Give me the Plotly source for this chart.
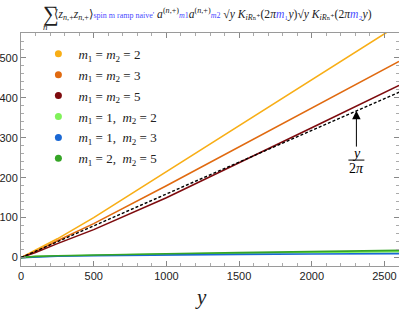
import plotly.graph_objects as go

# ---- data ----
y_grid = [0, 100, 250, 500, 1000, 1500, 2000, 2600]
s_22 = [0, 18, 47, 100, 215, 330, 445, 583]
s_33 = [0, 15, 42, 85, 180, 277, 374, 491]
s_55 = [0, 13, 35, 70, 150, 237, 325, 431]
s_12 = [0, 2.5, 4, 6, 9, 11, 13, 15]
s_13 = [0, 2, 3.5, 5, 7, 8, 9, 10]
s_25 = [0, 3, 4.5, 6.5, 9.5, 12.5, 15, 18]
ref_y = [0, 2600]
ref_vals = [0, 413.8]   # y / (2 pi)

labels = [
    "<i>m</i><sub>1</sub> = <i>m</i><sub>2</sub> = 2",
    "<i>m</i><sub>1</sub> = <i>m</i><sub>2</sub> = 3",
    "<i>m</i><sub>1</sub> = <i>m</i><sub>2</sub> = 5",
    "<i>m</i><sub>1</sub> = 1,  <i>m</i><sub>2</sub> = 2",
    "<i>m</i><sub>1</sub> = 1,  <i>m</i><sub>2</sub> = 3",
    "<i>m</i><sub>1</sub> = 2,  <i>m</i><sub>2</sub> = 5",
]
series = [s_22, s_33, s_55, s_12, s_13, s_25]
colors = ["#F8AE16", "#E06A10", "#7E0B0E", "#80F25A", "#1A68D4", "#35A526"]

x_ticks = [0, 500, 1000, 1500, 2000, 2500]
y_ticks = [0, 100, 200, 300, 400, 500]

SERIF = "Liberation Serif, DejaVu Serif, serif"
SANS = "Liberation Sans, Arial, sans-serif"

fig = go.Figure()

for vals, col in zip(series, colors):
    fig.add_trace(go.Scatter(x=y_grid, y=vals, mode="lines",
                             line=dict(color=col, width=1.6),
                             showlegend=False, hoverinfo="skip"))

fig.add_trace(go.Scatter(x=ref_y, y=ref_vals, mode="lines",
                         line=dict(color="black", width=1.4, dash="3px,2px"),
                         showlegend=False, hoverinfo="skip"))

# legend entries (dots)
for i, (lab, col) in enumerate(zip(labels, colors)):
    fig.add_trace(go.Scatter(x=[None], y=[None], mode="markers",
                             marker=dict(color=col, size=7),
                             name=lab, legendgroup=f"g{i}"))

axis_common = dict(
    ticks="inside", ticklen=5, tickwidth=1, tickcolor="#888",
    showline=True, linecolor="#9a9a9a", linewidth=1, mirror="ticks",
    showgrid=False, zeroline=False, automargin=False,
    tickfont=dict(family=SANS, size=11, color="#222"),
)

fig.update_layout(
    width=399, height=311,
    margin=dict(l=21, r=0, t=33, b=45),
    paper_bgcolor="white", plot_bgcolor="white",
    xaxis=dict(range=[0, 2600], tickvals=x_ticks,
               minor=dict(dtick=100, ticklen=3, ticks="inside", tickcolor="#aaa"),
               **axis_common),
    yaxis=dict(range=[-21, 562], tickvals=y_ticks,
               minor=dict(dtick=20, ticklen=3, ticks="inside", tickcolor="#aaa"),
               **axis_common),
    legend=dict(x=0.046, y=0.975, xanchor="left", yanchor="top",
                bgcolor="rgba(0,0,0,0)", tracegroupgap=1,
                font=dict(family=SERIF, size=13, color="#222"),
                itemwidth=30),
    showlegend=True,
)

# axis title
fig.add_annotation(text="<i>y</i>", xref="paper", yref="paper",
                   x=0.475, y=-0.135, yanchor="middle", showarrow=False,
                   font=dict(family=SERIF, size=21, color="#222"))

# arrow to the y/2pi line
ax_x = 2307
tip = ax_x * ref_vals[1] / ref_y[1]
fig.add_annotation(x=ax_x, y=tip, ax=ax_x, ay=274, xref="x", yref="y",
                   axref="x", ayref="y", text="", showarrow=True,
                   arrowhead=2, arrowsize=1.7, arrowwidth=1, arrowcolor="black")
fig.add_annotation(x=ax_x, y=261, text="<i>y</i>", showarrow=False,
                   font=dict(family=SERIF, size=14, color="black"))
fig.add_annotation(x=ax_x, y=224, text="2<i>π</i>", showarrow=False,
                   font=dict(family=SERIF, size=14, color="black"))
fig.add_shape(type="line", x0=ax_x - 55, x1=ax_x + 55, y0=244, y1=244,
              xref="x", yref="y", line=dict(color="black", width=1))

# title
blue = "#4a4aff"
def py(px):  # pixel row -> paper y
    return (266 - px) / 233.0
def pxx(px):
    return (px - 21) / 378.0

fig.add_annotation(text="∑", xref="paper", yref="paper", x=pxx(41), y=py(13),
                   showarrow=False, yanchor="middle",
                   font=dict(family=SERIF, size=22, color="#222"))
fig.add_annotation(text="<i>n</i>", xref="paper", yref="paper", x=pxx(41), y=py(27),
                   showarrow=False, yanchor="middle",
                   font=dict(family=SERIF, size=9, color="#222"))
title_txt = (
    "⟨<i>z</i><sub><i>n</i>,+</sub><i>z</i><sub><i>n</i>,+</sub>⟩"
    f"<span style='color:{blue};font-size:8px'>spin m ramp naive'</span>"
    " <i>a</i><sup>(<i>n</i>,+)</sup>"
    f"<span style='color:{blue};font-size:8px'><i>m</i>1</span>"
    "<i>a</i><sup>(<i>n</i>,+)</sup>"
    f"<span style='color:{blue};font-size:8px'><i>m</i>2</span>"
    " √<i>y</i> <i>K</i><sub><i>iR</i>ₙ⁺</sub>"
    f"(2<i>π</i><span style='color:{blue}'><i>m</i>₁</span><i>y</i>)"
    "√<i>y</i> <i>K</i><sub><i>iR</i>ₙ⁺</sub>"
    f"(2<i>π</i><span style='color:{blue}'><i>m</i>₂</span><i>y</i>)"
)
fig.add_annotation(text=title_txt, xref="paper", yref="paper",
                   x=pxx(52), y=py(14),
                   xanchor="left", yanchor="middle", showarrow=False,
                   font=dict(family=SERIF, size=11.6, color="#222"))

fig.write_html("out.html", config={"displayModeBar": False},
               post_script="document.body.style.margin='0';document.body.style.overflow='hidden';")
